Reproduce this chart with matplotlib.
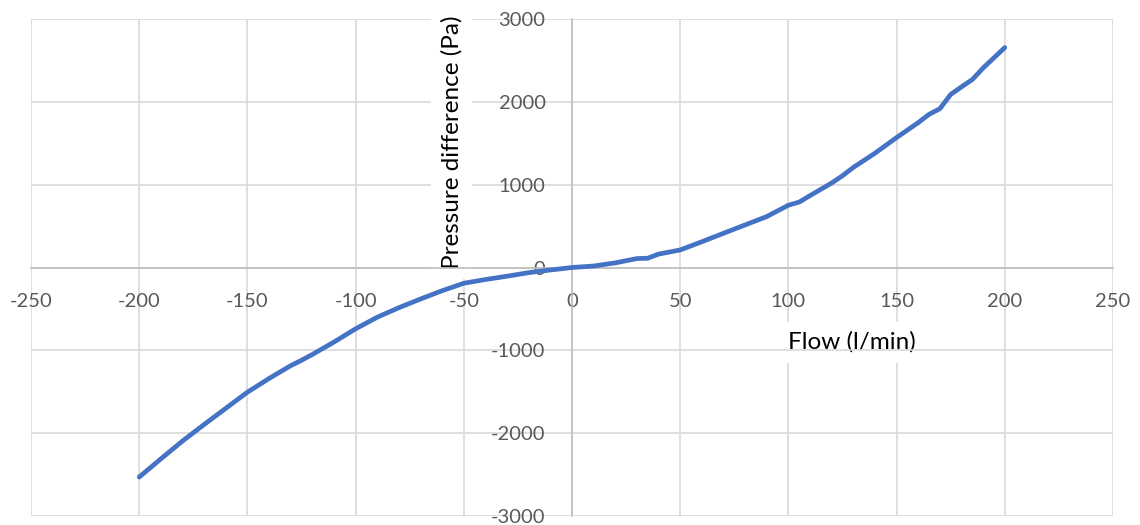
from matplotlib import pyplot as plt
import matplotlib.ticker as mtick

# Configure the font (Calibri-like)
plt.rcParams['font.family'] = ['Lato', 'DejaVu Sans']

# measured flow (l/min) and pressure difference (Pa)
flow = [-200, -190, -180, -170, -160, -150, -140, -130, -125, -120, -110,
        -100, -90, -80, -70, -60, -50, -40, -30, -20, -10,
        0, 10, 20, 30, 35, 40, 50, 60, 70, 80, 90,
        100, 105, 110, 120, 125, 130, 140, 150, 160, 165,
        170, 175, 180, 185, 190, 200]
pressure = [-2530, -2310, -2095, -1895, -1700, -1505, -1340, -1185, -1120, -1050, -900,
            -740, -600, -485, -380, -280, -190, -145, -105, -62, -30,
            0, 18, 56, 108, 112, 162, 212, 311, 413, 514, 615,
            752, 790, 868, 1020, 1108, 1208, 1380, 1569, 1749, 1849,
            1917, 2089, 2181, 2269, 2409, 2655]

x_ticks = [-250, -200, -150, -100, -50, 0, 50, 100, 150, 200, 250]
y_ticks = [-3000, -2000, -1000, 0, 1000, 2000, 3000]

fig = plt.figure(figsize=(11.4, 5.25), dpi=100)
ax = fig.add_axes([0.0272, 0.0171, 0.9491, 0.9467])

ax.set_xlim(-250, 250)
ax.set_ylim(-3000, 3000)
ax.set_xticks(x_ticks)
ax.set_yticks(y_ticks)
ax.xaxis.set_major_formatter(mtick.FormatStrFormatter('%d'))
ax.yaxis.set_major_formatter(mtick.FormatStrFormatter('%d'))

# grid
ax.grid(True, color='#d9d9d9', linewidth=1.2)
ax.set_axisbelow(True)

# axes cross at the origin (Excel style)
for side in ['top', 'right']:
    ax.spines[side].set_visible(False)
ax.spines['left'].set_position(('data', 0))
ax.spines['bottom'].set_position(('data', 0))
for side in ['left', 'bottom']:
    ax.spines[side].set_color('#bfbfbf')
    ax.spines[side].set_linewidth(1.2)

ax.tick_params(axis='both', length=0, labelsize=14.5, labelcolor='#595959')
ax.tick_params(axis='x', pad=18)
ax.tick_params(axis='y', pad=19)

# the curve
ax.plot(flow, pressure, color='#4472c4', linewidth=3.4,
        solid_capstyle='round', solid_joinstyle='round', zorder=3)

# axis titles with white boxes
box = dict(facecolor='white', edgecolor='none', pad=7)
ax.set_xlabel('Flow (l/min)', fontsize=17.5, color='black', bbox=box,
              verticalalignment='center')
ax.xaxis.set_label_coords(0.759, 0.350)
ax.set_ylabel('Pressure difference (Pa)', fontsize=17.5, color='black',
              bbox=box, verticalalignment='center')
ax.yaxis.set_label_coords(0.389, 0.752)

plt.savefig('out.png', dpi=100)
